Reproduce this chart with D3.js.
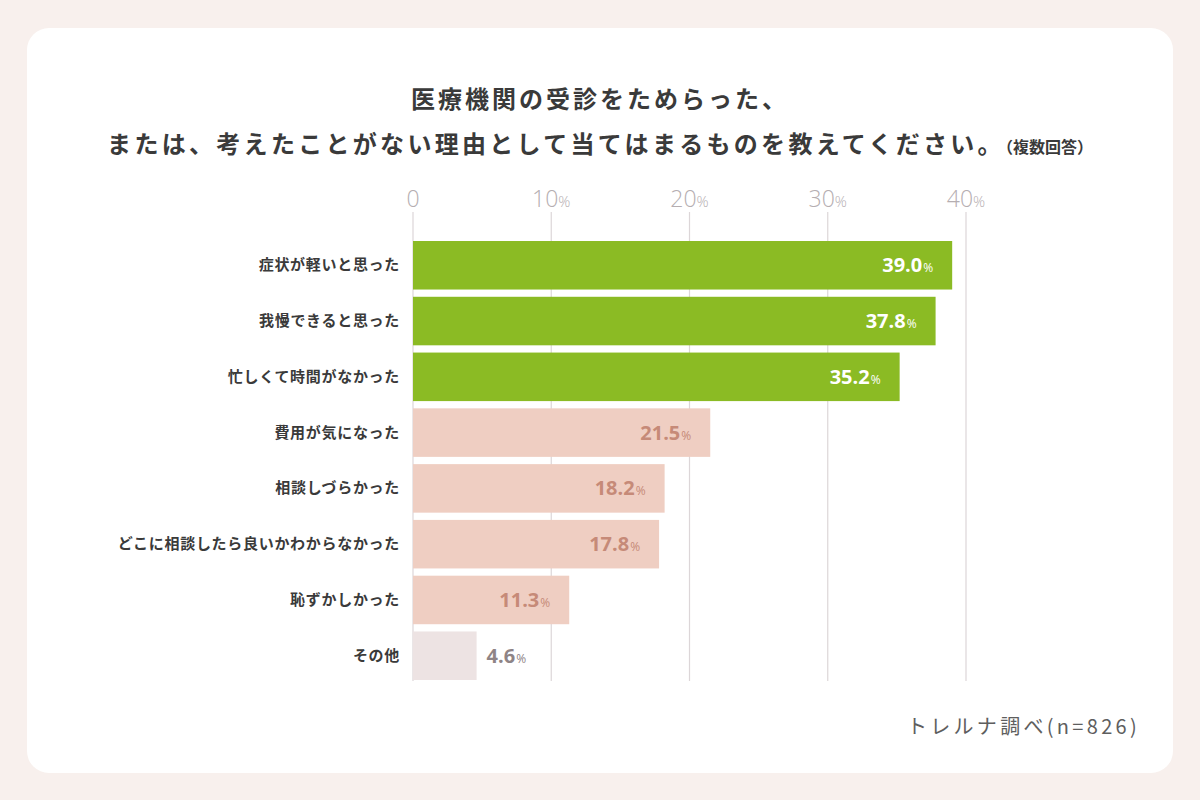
<!DOCTYPE html>
<html><head><meta charset="utf-8">
<script src="https://cdn.jsdelivr.net/npm/d3@7"></script>
<style>
html,body{margin:0;padding:0;background:#f8f0ed;}
svg{display:block;font-family:"Noto Sans CJK JP","Noto Sans",sans-serif;}
</style></head><body>
<svg id="c" width="1200" height="800"></svg>
<script>
const categories = ["症状が軽いと思った","我慢できると思った","忙しくて時間がなかった","費用が気になった","相談しづらかった","どこに相談したら良いかわからなかった","恥ずかしかった","その他"];
const values = [39.0,37.8,35.2,21.5,18.2,17.8,11.3,4.6];
const groups = ["top","top","top","mid","mid","mid","mid","other"];
const ticks = [0,10,20,30,40];

const svg = d3.select("#c");
svg.append("rect").attr("x",0).attr("y",0).attr("width",1200).attr("height",800).attr("fill","#f8f0ed");
svg.append("rect").attr("x",27).attr("y",28).attr("width",1146).attr("height",745).attr("rx",22).attr("fill","#ffffff");

// title
const t = svg.append("g").attr("fill","#3a3a3a").attr("font-weight","bold").attr("text-anchor","middle");
t.append("text").attr("x",600).attr("y",108).attr("font-size",24).attr("letter-spacing",3.0).text("医療機関の受診をためらった、");
const l2 = t.append("text").attr("x",600).attr("y",153).attr("font-size",24).attr("letter-spacing",3.3);
l2.append("tspan").text("または、考えたことがない理由として当てはまるものを教えてください。");
l2.append("tspan").attr("font-size",16).attr("letter-spacing",0).text("（複数回答）");

const x = d3.scaleLinear().domain([0,40]).range([413,966]);
const y = d3.scaleBand().domain(categories).range([241,680]).paddingInner(0.13).paddingOuter(0.0);

// gridlines
svg.append("g").selectAll("line").data(ticks).join("line")
  .attr("x1",d=>x(d)).attr("x2",d=>x(d)).attr("y1",212).attr("y2",681)
  .attr("stroke","#dcd6d8").attr("stroke-width",1.2);

// tick labels
const tl = svg.append("g").selectAll("text").data(ticks).join("text")
  .attr("x",d=>x(d)).attr("y",207).attr("fill","#b5aeb1").attr("font-family","'Open Sans','Noto Sans',sans-serif")
  .attr("font-weight",300).attr("font-size",23).attr("text-anchor","middle");
tl.append("tspan").text(d=>d);
tl.filter(d=>d>0).append("tspan").attr("font-size",15).text("%");

const fill = {top:"#8bbb24",mid:"#efcec2",other:"#ede3e3"};
const tcol = {top:"#ffffff",mid:"#c68a78",other:"#8f8486"};

svg.append("g").selectAll("rect").data(categories).join("rect")
  .attr("x",x(0)).attr("y",d=>y(d)).attr("width",(d,i)=>x(values[i])-x(0)).attr("height",y.bandwidth())
  .attr("fill",(d,i)=>fill[groups[i]]);

// category labels
svg.append("g").selectAll("text").data(categories).join("text")
  .attr("x",400).attr("y",d=>y(d)+y.bandwidth()/2+5).attr("text-anchor","end")
  .attr("font-size",15).attr("letter-spacing",0.7).attr("font-weight","bold").attr("fill","#3a3a3a").text(d=>d);

// value labels
const vl = svg.append("g").selectAll("text").data(categories).join("text")
  .attr("x",(d,i)=>groups[i]==="other"? x(values[i])+10 : x(values[i])-19)
  .attr("y",d=>y(d)+y.bandwidth()/2+7)
  .attr("text-anchor",(d,i)=>groups[i]==="other"?"start":"end")
  .attr("font-family","'Open Sans','Noto Sans',sans-serif").attr("font-weight","bold").attr("font-size",20)
  .attr("fill",(d,i)=>tcol[groups[i]]);
vl.append("tspan").text((d,i)=>values[i].toFixed(1));
vl.append("tspan").attr("font-size",12).attr("font-weight","normal").attr("dx",1).text("%");

svg.append("text").attr("x",1140).attr("y",734).attr("text-anchor","end").attr("font-size",20)
  .attr("fill","#5e5e5e").attr("letter-spacing",3.3).text("トレルナ調べ(n=826)");
</script></body></html>
